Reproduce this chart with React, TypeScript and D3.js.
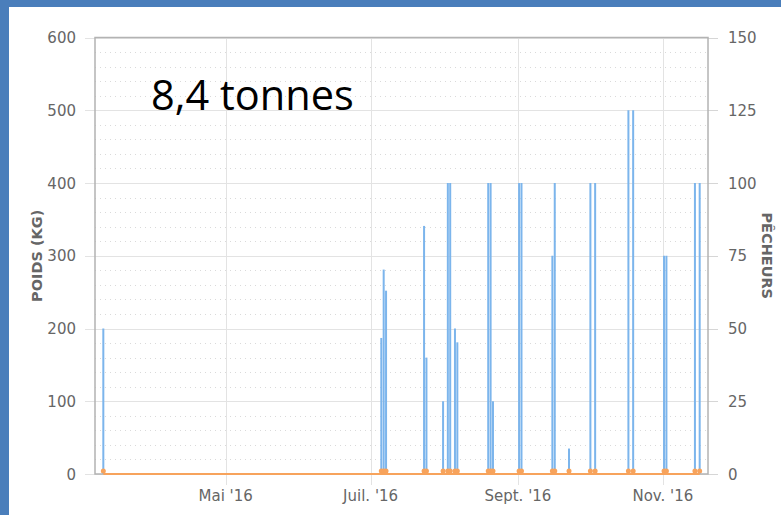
import React from "react";
import * as d3 from "d3";

// jours de pêche (UTC, milieu de journée) et poids débarqué (kg)
const dates = [
  "2016-03-10T12:00Z", "2016-07-05T12:00Z", "2016-07-06T12:00Z", "2016-07-07T12:00Z",
  "2016-07-23T12:00Z", "2016-07-24T12:00Z", "2016-07-31T12:00Z", "2016-08-02T12:00Z",
  "2016-08-03T12:00Z", "2016-08-05T12:00Z", "2016-08-06T12:00Z", "2016-08-19T12:00Z",
  "2016-08-20T12:00Z", "2016-08-21T12:00Z", "2016-09-01T12:00Z", "2016-09-02T12:00Z",
  "2016-09-15T12:00Z", "2016-09-16T12:00Z", "2016-09-22T12:00Z", "2016-10-01T12:00Z",
  "2016-10-03T12:00Z", "2016-10-17T12:00Z", "2016-10-19T12:00Z", "2016-11-01T12:00Z",
  "2016-11-02T12:00Z", "2016-11-14T12:00Z", "2016-11-16T12:00Z",
];
const poids = [
  200, 187, 281, 252, 341, 160, 100, 400, 400, 200, 181, 400, 400, 100, 400, 400, 300, 400,
  35, 400, 400, 500, 500, 300, 300, 400, 400,
];
const pecheurs = [1, 1, 1, 1, 1, 1, 1, 1, 1, 1, 1, 1, 1, 1, 1, 1, 1, 1, 1, 1, 1, 1, 1, 1, 1, 1, 1];

const poidsTicks = [0, 100, 200, 300, 400, 500, 600];
const pecheursTicks = [0, 25, 50, 75, 100, 125, 150];
const monthTicks = ["2016-05-01", "2016-07-01", "2016-09-01", "2016-11-01"];
const monthLabels = ["Mai '16", "Juil. '16", "Sept. '16", "Nov. '16"];

const W = 781;
const H = 515;
const m = { left: 95, right: 708, top: 37.5, bottom: 474 };
const font = "'DejaVu Sans', sans-serif";

const App: React.FC = () => {
  const x = d3
    .scaleUtc()
    .domain([new Date("2016-03-07"), new Date("2016-11-20")])
    .range([m.left, m.right]);
  const yL = d3.scaleLinear().domain([0, 600]).range([m.bottom, m.top]);
  const yR = d3.scaleLinear().domain([0, 150]).range([m.bottom, m.top]);

  const minor = d3.range(0, 600, 20).filter((v) => v % 100 !== 0);
  const parsed = dates.map((d) => new Date(d));
  const ext = d3.extent(parsed) as [Date, Date];

  const baseLine = d3
    .line<[Date, number]>()
    .x((d) => x(d[0]))
    .y((d) => yR(d[1]))([
    [ext[0], 0],
    [ext[1], 0],
  ]);

  return (
    <svg
      width={W}
      height={H}
      style={{ position: "absolute", left: 0, top: 0, display: "block" }}
    >
      <rect x={0} y={0} width={W} height={H} fill="#4a7ebb" />
      <rect x={9} y={7} width={W - 9} height={H - 7} fill="#ffffff" />

      {/* grille mineure pointillée */}
      {minor.map((v) => (
        <line
          key={"mi" + v}
          x1={m.left}
          x2={m.right}
          y1={Math.round(yL(v)) + 0.5}
          y2={Math.round(yL(v)) + 0.5}
          stroke="#dadada"
          strokeDasharray="1,4"
        />
      ))}
      {/* grille principale */}
      {poidsTicks.map((v) => (
        <line
          key={"ma" + v}
          x1={m.left - 10}
          x2={m.right}
          y1={Math.round(yL(v)) + 0.5}
          y2={Math.round(yL(v)) + 0.5}
          stroke="#e3e3e3"
        />
      ))}
      {pecheursTicks.map((v) => (
        <line
          key={"rt" + v}
          x1={m.right}
          x2={m.right + 10}
          y1={Math.round(yR(v)) + 0.5}
          y2={Math.round(yR(v)) + 0.5}
          stroke="#d6d6d6"
        />
      ))}
      {monthTicks.map((d) => (
        <line
          key={"vx" + d}
          x1={Math.round(x(new Date(d))) + 0.5}
          x2={Math.round(x(new Date(d))) + 0.5}
          y1={m.top}
          y2={m.bottom + 11}
          stroke="#e3e3e3"
        />
      ))}

      {/* bordure du graphique */}
      <rect
        x={m.left}
        y={m.top}
        width={m.right - m.left}
        height={m.bottom - m.top}
        fill="none"
        stroke="#b3b3b3"
        strokeWidth={1.5}
      />

      {/* colonnes poids */}
      {parsed.map((d, i) => (
        <rect
          key={"c" + i}
          x={x(d) - 1}
          y={yL(poids[i])}
          width={2}
          height={m.bottom - yL(poids[i])}
          fill="#7cb5ec"
        />
      ))}

      {/* ligne pêcheurs */}
      <path d={baseLine || ""} fill="none" stroke="#f7a35c" strokeWidth={2} />
      {parsed.map((d, i) => (
        <circle key={"p" + i} cx={x(d)} cy={yR(pecheurs[i])} r={2.5} fill="#f7a35c" />
      ))}

      {/* libellés des axes */}
      {poidsTicks.map((v) => (
        <text
          key={"lt" + v}
          x={76}
          y={yL(v) + 5.5}
          textAnchor="end"
          fontFamily={font}
          fontSize={15}
          fill="#666666"
        >
          {v}
        </text>
      ))}
      {pecheursTicks.map((v) => (
        <text
          key={"rl" + v}
          x={728}
          y={yR(v) + 5.5}
          textAnchor="start"
          fontFamily={font}
          fontSize={15}
          fill="#666666"
        >
          {v}
        </text>
      ))}
      {monthTicks.map((d, i) => (
        <text
          key={"xl" + d}
          x={x(new Date(d))}
          y={501}
          textAnchor="middle"
          fontFamily={font}
          fontSize={15}
          fill="#666666"
        >
          {monthLabels[i]}
        </text>
      ))}

      <text
        transform={`translate(42, ${(m.top + m.bottom) / 2}) rotate(-90)`}
        textAnchor="middle"
        fontFamily={font}
        fontSize={14.5}
        fontWeight="bold"
        fill="#666666"
      >
        POIDS (KG)
      </text>
      <text
        transform={`translate(762, ${(m.top + m.bottom) / 2}) rotate(90)`}
        textAnchor="middle"
        fontFamily={font}
        fontSize={14.5}
        fontWeight="bold"
        fill="#666666"
      >
        PÊCHEURS
      </text>

      <text x={151} y={110} fontFamily="'Open Sans', sans-serif" fontSize={41.5} fill="#000000">
        8,4 tonnes
      </text>
    </svg>
  );
};

export default App;
